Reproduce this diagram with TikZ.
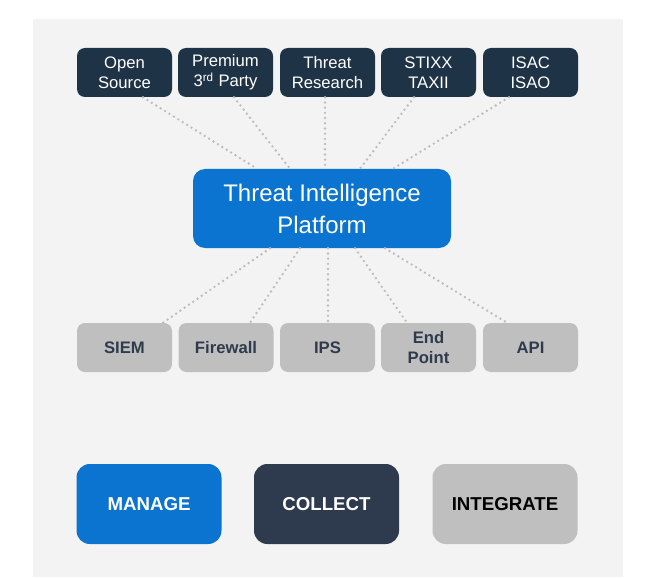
\documentclass[tikz,border=0pt]{standalone}
\usepackage{fontspec}
\setmainfont{Liberation Sans}
\usetikzlibrary{calc}

\definecolor{panelgray}{HTML}{F3F3F3}
\definecolor{srcnavy}{HTML}{1F3347}
\definecolor{colnavy}{HTML}{2E3A4D}
\definecolor{tipblue}{HTML}{0B73D0}
\definecolor{outgray}{HTML}{BFBFBF}
\definecolor{outtext}{HTML}{2F3B4C}
\definecolor{dotgray}{HTML}{BDBDBD}

\tikzset{
  source/.style={rounded corners=6pt, fill=srcnavy, text=white, inner sep=0pt,
    minimum width=71.25pt, minimum height=36.75pt, align=center,
    font=\fontsize{12.5}{15}\selectfont},
  platform/.style={rounded corners=9pt, fill=tipblue, text=white, inner sep=0pt,
    minimum width=193.5pt, minimum height=59.25pt, align=center,
    font=\fontsize{18}{24}\selectfont},
  output/.style={rounded corners=6pt, fill=outgray, text=outtext, inner sep=0pt,
    minimum width=71.25pt, minimum height=36.75pt, align=center,
    font=\fontsize{12.5}{15}\selectfont\bfseries},
  tag/.style={rounded corners=10pt, inner sep=0pt,
    minimum width=108.75pt, minimum height=60pt,
    font=\fontsize{14}{16}\selectfont\bfseries},
  feed/.style={dotgray, line width=2pt, dash pattern=on 0pt off 3.9pt, line cap=round}
}

\begin{document}
\begin{tikzpicture}[x=0.75pt,y=-0.75pt]
\useasboundingbox (0,0) rectangle (648,577);
\fill[panelgray] (33,19) rectangle (623,577);

% sources
\node[source] (os) at (124.5,72.5) {Open\\Source};
\node[source] (pr) at (225.5,72.5) {Premium\\3\textsuperscript{rd} Party};
\node[source] (tr) at (327.5,72.5) {Threat\\Research};
\node[source] (st) at (428.5,72.5) {STIXX\\TAXII};
\node[source] (is) at (530.5,72.5) {ISAC\\ISAO};

\node[platform] (tip) at (322,208.5) {Threat Intelligence\\Platform};

% outputs
\node[output] (siem) at (124.5,347.5) {SIEM};
\node[output] (fw) at (226,347.5) {Firewall};
\node[output] (ips) at (327.5,347.5) {IPS};
\node[output] (ep) at (428.5,347.5) {End\\Point};
\node[output] (api) at (530.5,347.5) {API};

\draw[feed] ($(os.south)+(18.5,0)$) -- ($(tip.north)+(-65,0)$);
\draw[feed] ($(pr.south)+(8.5,0)$) -- ($(tip.north)+(-32,0)$);
\draw[feed] ($(tr.south)+(-2.5,0)$) -- ($(tip.north)+(3,0)$);
\draw[feed] ($(st.south)+(-14.5,0)$) -- ($(tip.north)+(38,0)$);
\draw[feed] ($(is.south)+(-21.5,0)$) -- ($(tip.north)+(71,0)$);

\draw[feed] ($(tip.south)+(-52,0)$) -- ($(siem.north)+(38.5,0)$);
\draw[feed] ($(tip.south)+(-22,0)$) -- ($(fw.north)+(24,0)$);
\draw[feed] ($(tip.south)+(6,0)$) -- ($(ips.north)+(0.5,0)$);
\draw[feed] ($(tip.south)+(33,0)$) -- ($(ep.north)+(-21.5,0)$);
\draw[feed] ($(tip.south)+(63,0)$) -- ($(api.north)+(-23.5,0)$);

\node[tag, fill=tipblue, text=white] (manage) at (149,504) {MANAGE};
\node[tag, fill=colnavy, text=white] (collect) at (326.5,504) {COLLECT};
\node[tag, fill=outgray, text=black] (integrate) at (505,504) {INTEGRATE};
\end{tikzpicture}
\end{document}
